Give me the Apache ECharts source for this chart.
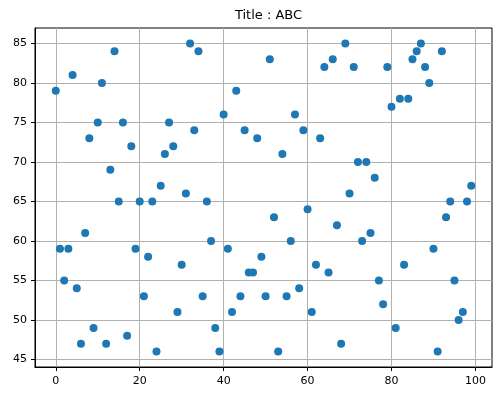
<!DOCTYPE html>
<html>
<head>
<meta charset="utf-8">
<script src="https://cdn.jsdelivr.net/npm/echarts@6/dist/echarts.min.js"></script>
<style>html,body{margin:0;padding:0;background:#fff;}#c{width:500px;height:398px;}</style>
</head>
<body>
<div id="c"></div>
<script>
const titleText = "Title : ABC";
const xValues = [0,1,2,3,4,5,6,7,8,9,10,11,12,13,14,15,16,17,18,19,20,21,22,23,24,25,26,27,28,29,30,31,32,33,34,35,36,37,38,39,40,41,42,43,44,45,46,47,48,49,50,51,52,53,54,55,56,57,58,59,60,61,62,63,64,65,66,67,68,69,70,71,72,73,74,75,76,77,78,79,80,81,82,83,84,85,86,87,88,89,90,91,92,93,94,95,96,97,98,99];
const yValues = [79,59,55,59,81,54,47,61,73,49,75,80,47,69,84,65,75,48,72,59,65,53,58,65,46,67,71,75,72,51,57,66,85,74,84,53,65,60,49,46,76,59,51,79,53,74,56,56,73,58,53,83,63,46,71,53,60,76,54,74,64,51,57,73,82,56,83,62,47,85,66,82,70,60,70,61,68,55,52,82,77,49,78,57,78,83,84,85,82,80,59,46,84,63,65,55,50,51,65,67];
const xTicks = [0,20,40,60,80,100];
const yTicks = [45,50,55,60,65,70,75,80,85];

const xMinData = Math.min(...xValues), xMaxData = Math.max(...xValues);
const yMinData = Math.min(...yValues), yMaxData = Math.max(...yValues);
const xPad = (xMaxData - xMinData) * 0.05, yPad = (yMaxData - yMinData) * 0.05;

const points = xValues.map((x, i) => [x, yValues[i]]);
const chart = echarts.init(document.getElementById('c'), null, {renderer: 'canvas'});
const axisCommon = {
  type: 'value',
  axisLine: {show: true, onZero: false, lineStyle: {color: '#000', width: 1}},
  axisTick: {show: true, length: 4, lineStyle: {color: '#000', width: 1}},
  axisLabel: {color: '#000', fontSize: 11, fontFamily: 'DejaVu Sans'},
  splitLine: {show: true, lineStyle: {color: '#b0b0b0', width: 1}}
};
chart.setOption({
  animation: false,
  backgroundColor: '#fff',
  title: {
    text: titleText, left: 263.5, top: 4, textAlign: 'center',
    textStyle: {fontSize: 13, fontWeight: 'normal', color: '#000', fontFamily: 'DejaVu Sans'}
  },
  grid: {left: 35, right: 8, top: 28, bottom: 31, show: true, borderColor: '#000', borderWidth: 1, containLabel: false},
  xAxis: Object.assign({}, axisCommon, {
    min: xMinData - xPad, max: xMaxData + xPad,
    axisTick: Object.assign({}, axisCommon.axisTick, {customValues: xTicks}),
    axisLabel: Object.assign({}, axisCommon.axisLabel, {customValues: xTicks, margin: 9})
  }),
  yAxis: Object.assign({}, axisCommon, {
    min: yMinData - yPad, max: yMaxData + yPad,
    axisTick: Object.assign({}, axisCommon.axisTick, {customValues: yTicks}),
    axisLabel: Object.assign({}, axisCommon.axisLabel, {customValues: yTicks, margin: 8})
  }),
  series: [{
    type: 'scatter',
    data: points,
    symbolSize: 8,
    itemStyle: {color: '#1f77b4', opacity: 1}
  }]
});
</script>
</body>
</html>
